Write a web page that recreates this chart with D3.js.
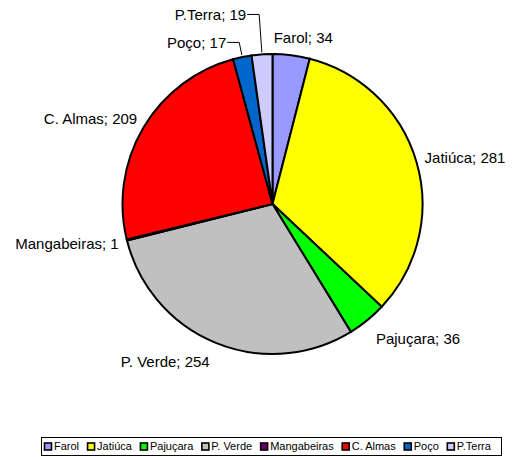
<!DOCTYPE html>
<html>
<head>
    <meta charset="utf-8">
    <title>Pie</title>
    <style>
        body { margin: 0; background: #fff; }
        svg { font-family: "Liberation Sans", Arial, sans-serif; }
        path.slice { stroke: #000; stroke-width: 2px; }
        text.lbl { font-size: 15px; fill: #000; }
        text.leg { font-size: 11px; fill: #000; }
        polyline.leader { stroke: #000; stroke-width: 1px; fill: none; }
    </style>
    <script src="https://cdnjs.cloudflare.com/ajax/libs/d3/7.8.5/d3.min.js"></script>
</head>
<body>
    <svg width="517" height="457"></svg>
    <script>
        var categories = ["Farol", "Jatiúca", "Pajuçara", "P. Verde", "Mangabeiras", "C. Almas", "Poço", "P.Terra"];
        var values = [34, 281, 36, 254, 1, 209, 17, 19];
        var colors = ["#9999FF", "#FFFF00", "#00FF00", "#C0C0C0", "#660066", "#FF0000", "#0066CC", "#CCCCFF"];

        // small slices get a leader line (radius of the elbow)
        var leaderRadius = { "Poço": 165, "P.Terra": 190 };
        // label nudges where the automatic placement drifts
        var labelNudge = { "Farol": [7, 0], "Pajuçara": [18, 5], "P. Verde": [-30, 3], "C. Almas": [-4, 0] };

        var svg = d3.select("svg");
        var cx = 272.5, cy = 204, r = 150;

        var data = categories.map(function (c, i) { return { name: c, value: values[i], color: colors[i] }; });

        var pie = d3.pie().sort(null).value(function (d) { return d.value; });
        var arc = d3.arc().innerRadius(0).outerRadius(r);
        var arcs = pie(data);

        var g = svg.append("g").attr("transform", "translate(" + cx + "," + cy + ")");

        g.selectAll("path.slice")
            .data(arcs)
            .enter().append("path")
            .attr("class", "slice")
            .attr("fill", function (d) { return d.data.color; })
            .attr("d", arc);

        // labels
        arcs.forEach(function (d) {
            var a = (d.startAngle + d.endAngle) / 2;
            var s = Math.sin(a), c = Math.cos(a);
            var txt = d.data.name + "; " + d.data.value;

            if (leaderRadius[d.data.name]) {
                var R = leaderRadius[d.data.name];
                var ex = R * s, ey = -R * c;
                var sx = (r + 2) * s, sy = -(r + 2) * c;
                g.append("polyline")
                    .attr("class", "leader")
                    .attr("points", [[sx, sy], [ex, ey], [ex - 12, ey]].map(function (p) { return p.join(","); }).join(" "));
                g.append("text")
                    .attr("class", "lbl")
                    .attr("x", ex - 13)
                    .attr("y", ey)
                    .attr("dy", "0.35em")
                    .attr("text-anchor", "end")
                    .text(txt);
                return;
            }

            var t = g.append("text")
                .attr("class", "lbl")
                .text(txt);
            var w = t.node().getComputedTextLength(), h = 15;
            var pr = r + 10;
            var nd = labelNudge[d.data.name] || [0, 0];
            var px = pr * s + s * w / 2 + nd[0], py = -pr * c - c * h / 2 + nd[1];
            t.attr("x", px).attr("y", py).attr("dy", "0.35em").attr("text-anchor", "middle");
        });

        // legend
        var leg = svg.append("g");
        leg.append("rect")
            .attr("x", 41.5).attr("y", 437.5)
            .attr("width", 460).attr("height", 18)
            .attr("fill", "#fff").attr("stroke", "#000").attr("stroke-width", 1);

        var lx = 44;
        data.forEach(function (d) {
            leg.append("rect")
                .attr("x", lx + 0.5).attr("y", 443)
                .attr("width", 7).attr("height", 7)
                .attr("fill", d.color).attr("stroke", "#000").attr("stroke-width", 1.6);
            var t = leg.append("text")
                .attr("class", "leg")
                .attr("x", lx + 10)
                .attr("y", 446.5)
                .attr("dy", "0.35em")
                .text(d.name);
            lx += 10 + t.node().getComputedTextLength() + 8;
        });
    </script>
</body>
</html>
